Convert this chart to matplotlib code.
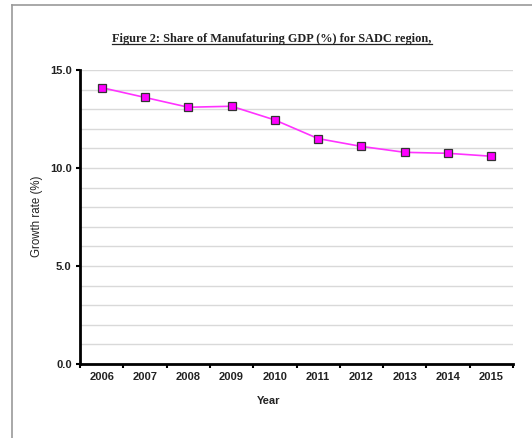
import matplotlib
matplotlib.use("Agg")
import matplotlib.pyplot as plt
from matplotlib.lines import Line2D

years = ["2006", "2007", "2008", "2009", "2010", "2011", "2012", "2013", "2014", "2015"]
share = [14.1, 13.6, 13.1, 13.15, 12.45, 11.5, 11.1, 10.8, 10.75, 10.6]
yticks = [0.0, 5.0, 10.0, 15.0]
title = "Figure 2: Share of Manufaturing GDP (%) for SADC region,"

W, H = 532, 438
fig = plt.figure(figsize=(W / 100, H / 100), dpi=100)
fig.patch.set_facecolor("white")

# outer frame lines (top and left)
fig.add_artist(Line2D([12 / W, 1.0], [1 - 5 / H, 1 - 5 / H], color="#999999", lw=1.2))
fig.add_artist(Line2D([12 / W, 12 / W], [0, 1 - 5 / H], color="#999999", lw=1.2))

x0, x1, ytop, ybot = 80, 513, 70, 364
ax = fig.add_axes([x0 / W, 1 - ybot / H, (x1 - x0) / W, (ybot - ytop) / H])

xs = list(range(len(years)))
ax.plot(xs, share, color="#ff33ff", lw=1.2, marker="s", markersize=5.5,
        markerfacecolor="#ff00ff", markeredgecolor="#333333", markeredgewidth=0.9,
        zorder=3, clip_on=False)

ax.set_xlim(-0.5, len(years) - 0.5)
ax.set_ylim(0, 15)

tick_font = dict(fontfamily="Liberation Sans", fontweight="bold", fontsize=8)

# y axis
ax.set_yticks(yticks)
ax.set_yticklabels([f"{v:.1f}" for v in yticks], color="#222222", **tick_font)
ax.set_yticks([i for i in range(16)], minor=True)
ax.yaxis.grid(True, which="both", color="#d9d9d9", lw=1.0)
ax.tick_params(axis="y", which="major", length=3, width=1.5, direction="out", pad=3)
ax.tick_params(axis="y", which="minor", length=0)

# x axis: labels at centres, tick marks at boundaries
ax.set_xticks(xs)
ax.set_xticklabels(years, color="#222222", **tick_font)
ax.tick_params(axis="x", which="major", length=0, pad=6)
ax.set_xticks([i - 0.5 for i in range(len(years) + 1)], minor=True)
ax.tick_params(axis="x", which="minor", length=3, width=1.5, direction="out")
ax.set_axisbelow(True)

for s in ["top", "right"]:
    ax.spines[s].set_visible(False)
for s in ["left", "bottom"]:
    ax.spines[s].set_linewidth(2)
    ax.spines[s].set_color("black")

fig.text(269 / W, 1 - 401 / H, "Year", ha="center", va="center", color="#222222", **tick_font)
fig.text(37 / W, 1 - 216 / H, "Growth rate (%)", ha="center", va="center", rotation=90,
         fontfamily="Liberation Sans", fontsize=8.3, color="#222222")

t = fig.text(272 / W, 1 - 39 / H, title, ha="center", va="center",
             fontfamily="Liberation Serif", fontweight="bold", fontsize=8.8, color="#222222")
fig.canvas.draw()
bb = t.get_window_extent(renderer=fig.canvas.get_renderer())
uy = (bb.y0 + 1) / H
fig.add_artist(Line2D([bb.x0 / W, bb.x1 / W], [uy, uy], color="#222222", lw=0.9))

fig.savefig("out.png", dpi=100, facecolor="white")
